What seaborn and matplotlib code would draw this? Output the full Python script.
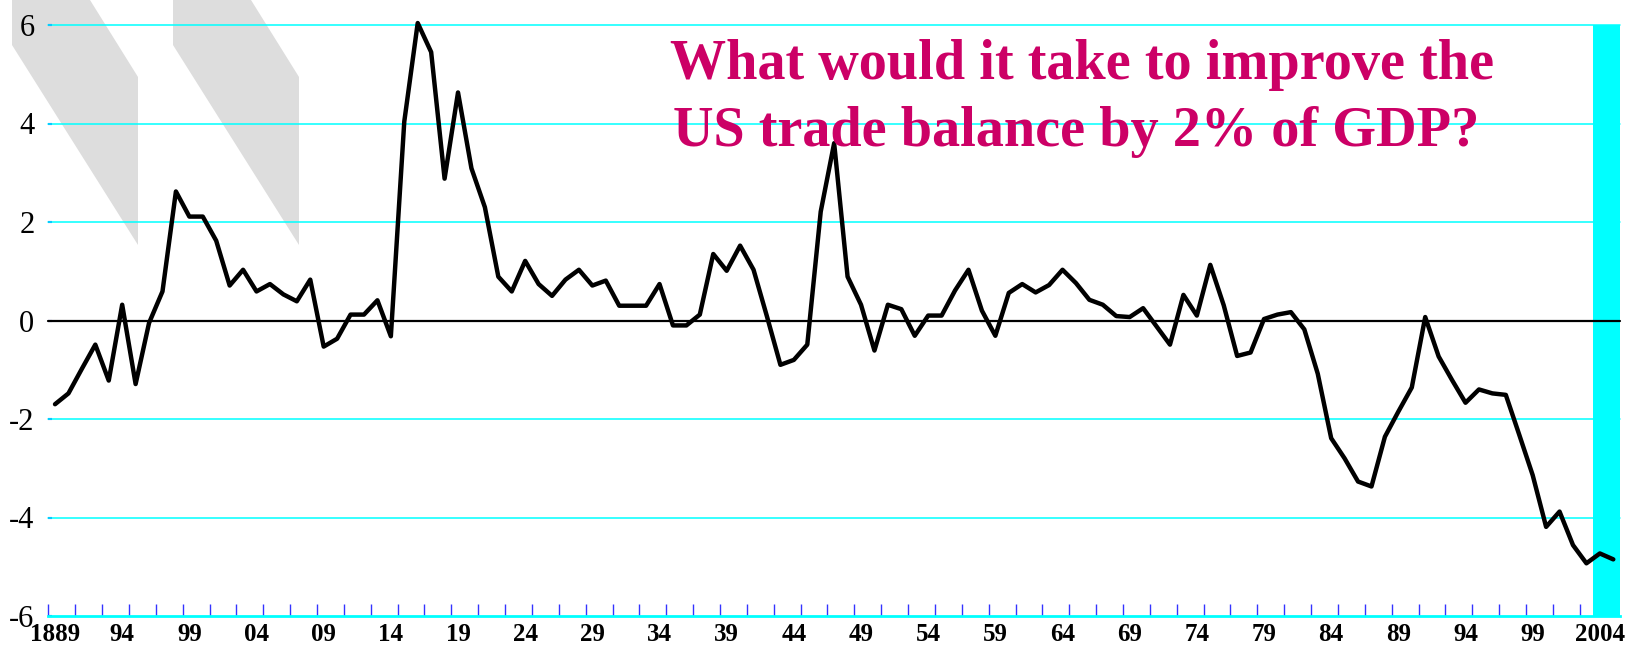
import numpy as np
import seaborn as sns
import matplotlib.pyplot as plt
from matplotlib.patches import Polygon

# ========== Data: US trade balance, % of GDP ==========
years = list(range(1889, 2006))
balance = [
    -1.70, -1.48, -0.98, -0.49, -1.22, 0.32, -1.29, -0.05, 0.59, 2.62,   # 1889-1898
    2.11, 2.11, 1.62, 0.71, 1.03, 0.59, 0.74, 0.53, 0.39, 0.83,          # 1899-1908
    -0.53, -0.37, 0.12, 0.12, 0.41, -0.32, 4.04, 6.04, 5.45, 2.88,       # 1909-1918
    4.63, 3.09, 2.30, 0.89, 0.59, 1.21, 0.74, 0.50, 0.83, 1.03,          # 1919-1928
    0.71, 0.81, 0.30, 0.30, 0.30, 0.74, -0.10, -0.10, 0.12, 1.35,        # 1929-1938
    1.01, 1.52, 1.03, 0.08, -0.90, -0.80, -0.49, 2.21, 3.60, 0.89,       # 1939-1948
    0.32, -0.61, 0.32, 0.23, -0.31, 0.10, 0.10, 0.61, 1.03, 0.20,        # 1949-1958
    -0.31, 0.56, 0.74, 0.57, 0.72, 1.03, 0.76, 0.42, 0.32, 0.09,         # 1959-1968
    0.07, 0.25, -0.12, -0.49, 0.52, 0.10, 1.13, 0.31, -0.72, -0.65,      # 1969-1978
    0.03, 0.12, 0.17, -0.18, -1.08, -2.39, -2.80, -3.27, -3.37, -2.36,   # 1979-1988
    -1.85, -1.36, 0.07, -0.73, -1.21, -1.67, -1.40, -1.48, -1.51, -2.32, # 1989-1998
    -3.14, -4.19, -3.88, -4.56, -4.93, -4.73, -4.85,                     # 1999-2005
]
label_years = list(range(1889, 2005, 5))
x_labels = ["1889", "94", "99", "04", "09", "14", "19", "24", "29", "34", "39", "44",
            "49", "54", "59", "64", "69", "74", "79", "84", "89", "94", "99", "2004"]
y_values = [-6, -4, -2, 0, 2, 4, 6]
y_labels = ["-6", "-4", "-2", "0", "2", "4", "6"]
highlight = (2003.5, 2005.5)
title_lines = ["What would it take to improve the", "US trade balance by 2% of GDP?"]

sns.set_style("white")
plt.rcParams["font.family"] = ["Liberation Serif", "DejaVu Serif"]

W, H = 1636, 659
fig = plt.figure(figsize=(W / 100, H / 100), dpi=100)
ax = fig.add_axes([48.3 / W, 43 / H, (1620 - 48.3) / W, (616 - 25) / H])
ax.patch.set_alpha(0)

# ========== Gray decoration shapes (top left) ==========
for off in [0, 161]:
    pts = [(12 + off, 0), (90 + off, 0), (138 + off, 77), (138 + off, 245), (12 + off, 45)]
    pts = [(px / W, 1 - py / H) for px, py in pts]
    fig.patches.append(Polygon(pts, closed=True, transform=fig.transFigure,
                               facecolor="#dddddd", edgecolor="none", zorder=-1))

# ========== Grid, highlight band, zero line ==========
for v in y_values[1:]:
    if v != 0:
        ax.axhline(v, color="#00ffff", lw=1.1, zorder=1, clip_on=False)
ax.axvspan(*highlight, color="#00ffff", lw=0, zorder=1.5)
ax.axhline(0, color="black", lw=1.6, zorder=2.8, clip_on=False)

# ========== Line ==========
sns.lineplot(x=years, y=balance, color="black", lw=3.2, ax=ax, zorder=3)
for ln in ax.get_lines():
    ln.set_clip_on(False)

ax.set_xlim(1888.5, 2005.5)
ax.set_ylim(-6, 6)

ax.set_xticks(label_years)
ax.set_xticklabels(x_labels, fontweight="bold", fontsize=18, color="black")
ax.set_xticks(np.arange(1888.5, 2003, 2), minor=True)
ax.tick_params(axis="x", which="major", bottom=True, length=0, pad=5)
ax.tick_params(axis="x", which="minor", bottom=True, direction="in", length=9,
               width=1, color="#3333ff")

ax.set_yticks(y_values)
ax.set_yticklabels(y_labels, fontsize=22, color="black")
ax.tick_params(axis="y", left=True, direction="in", length=3, width=1.5,
               color="#2020ff", pad=10)

for s in ["left", "top", "right"]:
    ax.spines[s].set_visible(False)
ax.spines["bottom"].set_color("#00ffff")
ax.spines["bottom"].set_linewidth(2)
ax.set_xlabel("")
ax.set_ylabel("")

# ========== Title ==========
fig.text(670 / W, 1 - 79 / H, title_lines[0], ha="left", va="baseline",
         fontsize=40.5, fontweight="bold", color="#cc0066")
fig.text(673 / W, 1 - 146 / H, title_lines[1], ha="left", va="baseline",
         fontsize=40.5, fontweight="bold", color="#cc0066")

fig.savefig("out.png", dpi=100, facecolor="white")
